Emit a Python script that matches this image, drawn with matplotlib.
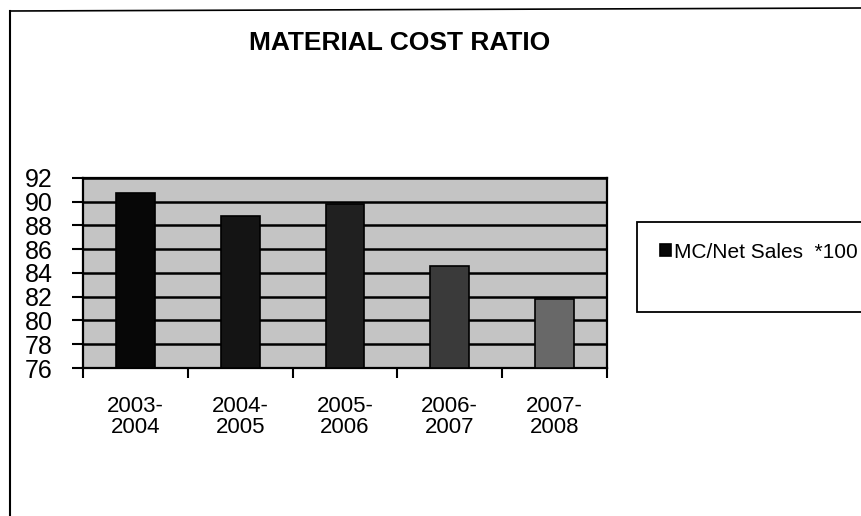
import matplotlib
matplotlib.use("Agg")
import matplotlib.pyplot as plt
from matplotlib.patches import Rectangle
from matplotlib.lines import Line2D

plt.rcParams['font.family'] = ['Liberation Sans', 'DejaVu Sans']

# Data
years = ["2003-\n2004", "2004-\n2005", "2005-\n2006", "2006-\n2007", "2007-\n2008"]
mc_ratio = [90.7, 88.8, 89.8, 84.6, 81.8]
series_name = "MC/Net Sales  *100"
y_ticks = [76, 78, 80, 82, 84, 86, 88, 90, 92]
bar_colors = ['#070707', '#141414', '#202020', '#3a3a3a', '#686868']

W, H = 861, 516
fig = plt.figure(figsize=(W / 100, H / 100), dpi=100)
fig.patch.set_facecolor('white')

def fx(px):
    return px / W

def fy(py):
    return 1 - py / H

# outer chart border
fig.add_artist(Line2D([fx(10), fx(10)], [fy(11), fy(516)], color='black', lw=1.5,
                      transform=fig.transFigure))
fig.add_artist(Line2D([fx(10), fx(861)], [fy(11), fy(8)], color='black', lw=1.2,
                      transform=fig.transFigure))

ax = fig.add_axes([fx(83), fy(368), fx(607) - fx(83), fy(178) - fy(368)])
ax.set_facecolor('#c4c4c4')

x = list(range(len(years)))
bars = ax.bar(x, [v - 76 for v in mc_ratio], bottom=76, width=0.37,
              color=bar_colors, edgecolor='black', linewidth=1.2, zorder=3,
              label=series_name)

ax.set_xlim(-0.5, len(years) - 0.5)
ax.set_ylim(76, 92)
ax.set_yticks(y_ticks)
ax.set_yticklabels([str(t) for t in y_ticks], fontsize=18)
ax.yaxis.grid(True, color='black', linewidth=1.8, zorder=1)
ax.set_axisbelow(True)

# category labels centred, tick marks at category boundaries
ax.set_xticks(x)
ax.set_xticklabels(years, fontsize=16, linespacing=1.0)
ax.tick_params(axis='x', length=0, pad=20)
ax.set_xticks([i - 0.5 for i in range(len(years) + 1)], minor=True)
ax.tick_params(axis='x', which='minor', length=7, width=1.5, direction='out')
ax.tick_params(axis='y', length=8, width=1.5, direction='out', pad=14)

for s in ax.spines.values():
    s.set_color('black')
    s.set_linewidth(1.6)

fig.text(fx(400), fy(43), "MATERIAL COST RATIO", fontsize=19, fontweight='bold',
         ha='center', va='center')

# legend box
fig.add_artist(Rectangle((fx(637), fy(312)), fx(240), fy(222) - fy(312),
                         facecolor='white', edgecolor='black', lw=1.3,
                         transform=fig.transFigure))
fig.legend(handles=[bars.patches[0]], labels=[series_name], loc='center left',
           bbox_to_anchor=(fx(650), fy(252)), frameon=False, fontsize=15,
           handlelength=0.5, handleheight=0.5, handletextpad=0.15, borderpad=0)

fig.savefig("out.png", dpi=100, facecolor='white')
